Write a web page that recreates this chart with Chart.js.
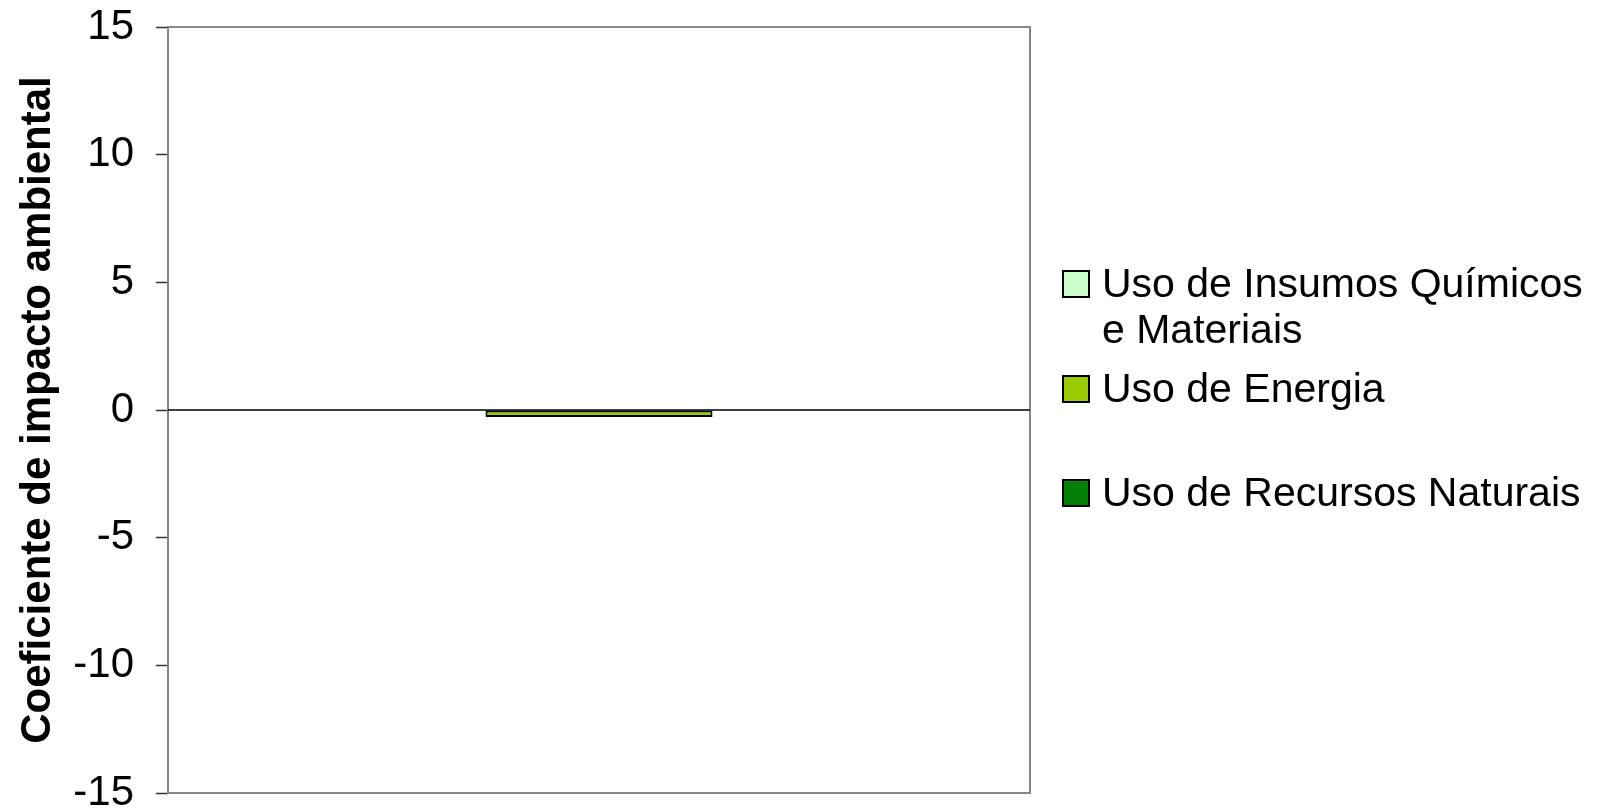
<!DOCTYPE html>
<html>
<head>
<meta charset="utf-8">
<script src="https://cdn.jsdelivr.net/npm/chart.js@4.4.1/dist/chart.umd.min.js"></script>
<style>
  html, body { margin: 0; padding: 0; background: #fff; overflow: hidden; }
  #wrap { position: relative; width: 1599px; height: 820px; }
  #legend { position: absolute; left: 0; top: 0; font-family: "Liberation Sans", Arial, sans-serif; }
  .item { position: absolute; left: 1062px; font-size: 41px; line-height: 46px; color: #000; }
  .item .box { position: absolute; left: 0; width: 24px; height: 24px; border: 2px solid #000; }
  .item .txt { position: absolute; left: 40px; width: 492px; white-space: normal; }
</style>
</head>
<body>
<div id="wrap">
  <canvas id="chart" width="1599" height="820"></canvas>
  <div id="legend"></div>
</div>
<script>
const categories = [""];
const seriesNames = ["Uso de Insumos Químicos e Materiais", "Uso de Energia", "Uso de Recursos Naturais"];
const seriesColors = ["#CCFFCC", "#99CC00", "#008000"];
const insumosValues = [0];
const energiaValues = [-0.27];
const recursosValues = [0];
const yMin = -15;
const yMax = 15;
const yStep = 5;

const fontFamily = '"Liberation Sans", Arial, sans-serif';

// frame round the plot area + the zero line
const framePlugin = {
  id: "frame",
  beforeDatasetsDraw(chart) {
    const { ctx, chartArea } = chart;
    ctx.save();
    ctx.strokeStyle = "#868686";
    ctx.lineWidth = 2;
    ctx.strokeRect(chartArea.left, chartArea.top, chartArea.right - chartArea.left, chartArea.bottom - chartArea.top);
    const y0 = chart.scales.y.getPixelForValue(0);
    ctx.strokeStyle = "#000";
    ctx.lineWidth = 1.5;
    ctx.beginPath();
    ctx.moveTo(chartArea.left, y0);
    ctx.lineTo(chartArea.right, y0);
    ctx.stroke();
    ctx.restore();
  }
};

const allValues = [insumosValues, energiaValues, recursosValues];

new Chart(document.getElementById("chart").getContext("2d"), {
  type: "bar",
  data: {
    labels: categories,
    datasets: seriesNames.map((name, i) => ({
      label: name,
      data: allValues[i],
      backgroundColor: seriesColors[i],
      borderColor: "#000",
      borderWidth: 2,
      borderSkipped: false,
      categoryPercentage: 0.79,
      barPercentage: 1.0
    }))
  },
  options: {
    responsive: false,
    animation: false,
    layout: { padding: { left: 0, right: 569, top: 27, bottom: 27 } },
    plugins: {
      legend: { display: false },
      tooltip: { enabled: false }
    },
    scales: {
      x: { display: false },
      y: {
        min: yMin,
        max: yMax,
        afterFit(scale) {
          scale.width = 168;
          scale.paddingTop = 0;
          scale.paddingBottom = 0;
        },
        ticks: {
          stepSize: yStep,
          color: "#000",
          padding: 22,
          font: { family: fontFamily, size: 42 }
        },
        border: { display: false },
        grid: {
          drawOnChartArea: false,
          drawTicks: true,
          tickLength: 12,
          tickColor: "#333",
          tickWidth: 1.5
        },
        title: {
          display: true,
          text: "Coeficiente de impacto ambiental",
          color: "#000",
          padding: { top: 13, bottom: 0 },
          font: { family: fontFamily, size: 42, weight: "bold", lineHeight: 1.2 }
        }
      }
    }
  },
  plugins: [framePlugin]
});

// legend built from the series arrays
const legendTops = [260, 365, 469];
const legend = document.getElementById("legend");
seriesNames.forEach((name, i) => {
  const item = document.createElement("div");
  item.className = "item";
  item.style.top = legendTops[i] + "px";
  const box = document.createElement("div");
  box.className = "box";
  box.style.background = seriesColors[i];
  box.style.top = "9.5px";
  const txt = document.createElement("div");
  txt.className = "txt";
  txt.textContent = name;
  item.appendChild(box);
  item.appendChild(txt);
  legend.appendChild(item);
});
</script>
</body>
</html>
